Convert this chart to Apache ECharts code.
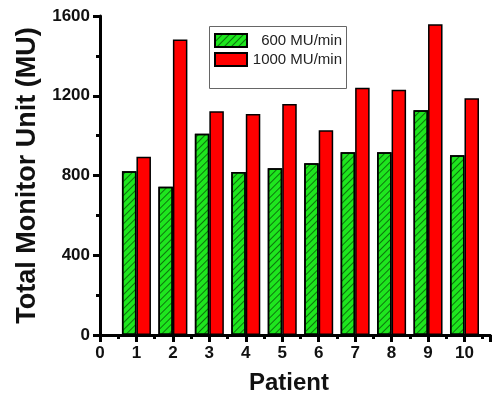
<!DOCTYPE html>
<html>
<head>
<meta charset="utf-8">
<script src="https://cdn.jsdelivr.net/npm/echarts@6/dist/echarts.min.js"></script>
<style>html,body{margin:0;padding:0;background:#fff}#c{width:493px;height:400px}</style>
</head>
<body>
<div id="c"></div>
<script>
var patients = [1, 2, 3, 4, 5, 6, 7, 8, 9, 10];
var mu600 = [821, 744, 1010, 818, 836, 862, 916, 916, 1127, 902];
var mu1000 = [894, 1482, 1122, 1108, 1158, 1027, 1240, 1230, 1559, 1188];
var seriesNames = ['600 MU/min', '1000 MU/min'];

var chart = echarts.init(document.getElementById('c'), null, {renderer: 'canvas'});
var font = 'Arial, "Liberation Sans", sans-serif';
var tickStyle = {color: '#000', width: 3};
chart.setOption({
  animation: false,
  grid: {left: 100, right: 0, top: 16, bottom: 63, containLabel: false},
  legend: {
    orient: 'vertical', left: 214, top: 33, itemWidth: 32, itemHeight: 13, itemGap: 4,
    padding: 0, icon: 'rect',
    data: seriesNames,
    formatter: function (n) { return '{a|' + n + '}'; },
    textStyle: {fontFamily: font, fontSize: 15, color: '#222',
      rich: {a: {width: 90, align: 'right', fontFamily: font, fontSize: 15, color: '#222'}}}
  },
  graphic: [{type: 'rect', shape: {x: 209.5, y: 26.5, width: 137, height: 62},
    style: {fill: 'none', stroke: '#666', lineWidth: 1}, z: 1}],
  xAxis: [{
    type: 'value', min: 0, max: 10.7, interval: 1,
    name: 'Patient', nameLocation: 'middle', nameGap: 36,
    nameTextStyle: {fontFamily: font, fontSize: 24, fontWeight: 'bold', color: '#111', padding: [0, 12, 0, 0]},
    axisLine: {show: true, onZero: false, lineStyle: {color: '#000', width: 3}},
    axisTick: {show: true, inside: false, length: 7, lineStyle: tickStyle},
    minorTick: {show: true, splitNumber: 2, length: 4, lineStyle: tickStyle},
    splitLine: {show: false}, minorSplitLine: {show: false},
    axisLabel: {fontFamily: font, fontSize: 17, fontWeight: 'bold', color: '#111', margin: 10,
      formatter: function (v) { return v > 10 ? '' : String(v); }}
  }, {
    type: 'value', position: 'top', min: 0, max: 10.7,
    axisLine: {show: true, lineStyle: {color: '#000', width: 3}},
    axisTick: {show: false}, axisLabel: {show: false}, splitLine: {show: false}
  }],
  yAxis: {
    type: 'value', min: 0, max: 1600, interval: 400,
    name: 'Total Monitor Unit (MU)', nameLocation: 'middle', nameGap: 56,
    nameTextStyle: {fontFamily: font, fontSize: 27, fontWeight: 'bold', color: '#111'},
    axisLine: {show: true, lineStyle: {color: '#000', width: 3}},
    axisTick: {show: true, inside: false, length: 7, lineStyle: tickStyle},
    minorTick: {show: true, splitNumber: 2, length: 4, lineStyle: tickStyle},
    splitLine: {show: false}, minorSplitLine: {show: false},
    axisLabel: {fontFamily: font, fontSize: 17, fontWeight: 'bold', color: '#111', margin: 10,
      formatter: function (v) { return String(v); }}
  },
  series: [{
    name: seriesNames[0], type: 'bar', barWidth: 14.5, barGap: '0%',
    data: patients.map(function (p, i) { return [p, mu600[i]]; }),
    itemStyle: {color: '#1ee61e', borderColor: '#000', borderWidth: 1.5,
      decal: {symbol: 'rect', symbolSize: 1, dashArrayX: [1, 0], dashArrayY: [1, 4], rotation: -Math.PI / 4, color: 'rgba(0,40,0,0.6)'}}
  }, {
    name: seriesNames[1], type: 'bar', barWidth: 14.5, barGap: '0%',
    data: patients.map(function (p, i) { return [p, mu1000[i]]; }),
    itemStyle: {color: '#ff0000', borderColor: '#000', borderWidth: 1.5}
  }]
});
</script>
</body>
</html>
